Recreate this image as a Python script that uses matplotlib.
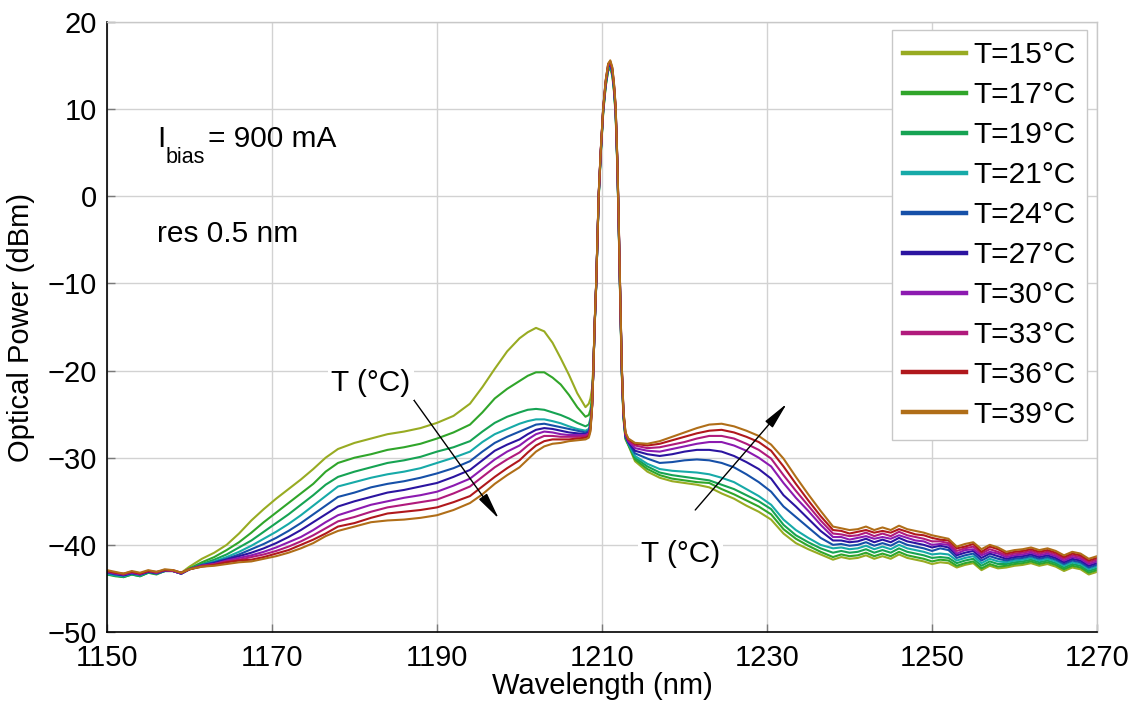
import matplotlib
matplotlib.use("Agg")
import matplotlib.pyplot as plt

plt.rcParams['font.family'] = ['Liberation Sans', 'DejaVu Sans']
plt.rcParams['mathtext.default'] = 'regular'

# ---------------- data ----------------
wavelength = [1150, 1151, 1152, 1153, 1154, 1155, 1156, 1157, 1158, 1159, 1160,
              1161.5, 1163, 1164.5, 1166, 1167.5, 1169, 1170.5, 1172, 1173.5, 1175, 1176.5, 1178,
              1180, 1182, 1184, 1186, 1188, 1190, 1192, 1194, 1195.5, 1197, 1198.5, 1200,
              1201, 1202, 1203, 1204, 1205, 1206, 1207, 1208,
              1208.4, 1208.6, 1208.8, 1208.95, 1209.1, 1209.3, 1209.45, 1209.6, 1209.85, 1210.15,
              1210.45, 1210.75, 1211.0, 1211.25, 1211.45, 1211.65, 1211.85, 1212.0, 1212.15, 1212.4,
              1212.6, 1212.85, 1213.2,
              1214, 1215.5, 1217, 1218.5, 1220, 1221.5, 1223, 1224.5, 1226, 1227.5, 1229, 1230.5,
              1232, 1233.5, 1235, 1236.5, 1238,
              1239, 1240, 1241, 1242, 1243, 1244, 1245, 1246, 1247, 1248, 1249, 1250,
              1251, 1252, 1253, 1254, 1255, 1256, 1257, 1258,
              1259, 1260, 1261, 1262, 1263, 1264, 1265, 1266, 1267, 1268, 1269, 1270]

t15 = [-43.3, -43.5, -43.6, -43.3, -43.5, -43.1, -43.3, -43.0, -43.0, -43.2, -42.5,
       -41.6, -40.9, -40.0, -38.7, -37.2, -35.9, -34.7, -33.6, -32.5, -31.3, -30.0, -29.0,
       -28.3, -27.8, -27.3, -27.0, -26.6, -26.0, -25.2, -23.8, -21.9, -19.8, -17.8, -16.3,
       -15.6, -15.1, -15.5, -16.8, -18.6, -20.5, -22.6, -24.2,
       -23.8, -23.2, -22.0, -19.5, -15.0, -10.0, -5.0, 0.0, 4.8, 9.6, 12.6, 14.4, 14.6, 13.8,
       12.0, 9.3, 3.5, -2.5, -9.5, -20.5, -25.5, -27.9, -28.6,
       -30.4, -31.6, -32.3, -32.7, -32.9, -33.1, -33.4, -34.1, -34.7, -35.5, -36.2, -37.1,
       -38.7, -39.8, -40.5, -41.1, -41.7,
       -41.4, -41.6, -41.5, -41.2, -41.6, -41.3, -41.6, -41.1, -41.5, -41.7, -41.9, -42.2,
       -42.0, -42.1, -42.6, -42.3, -42.1, -42.9, -42.4, -42.7,
       -42.6, -42.4, -42.3, -42.1, -42.4, -42.2, -42.5, -43.0, -42.6, -42.8, -43.4, -43.1]

t17 = [-43.4, -43.6, -43.7, -43.4, -43.6, -43.2, -43.4, -43.0, -43.0, -43.3, -42.7,
       -42.0, -41.4, -40.6, -39.7, -38.6, -37.4, -36.3, -35.2, -34.1, -33.0, -31.6, -30.6,
       -30.0, -29.6, -29.1, -28.8, -28.4, -27.8, -27.1, -26.2, -24.8, -23.2, -22.1, -21.2,
       -20.6, -20.2, -20.2, -20.8, -21.6, -22.8, -24.2, -25.3,
       -25.1, -24.5, -23.0, -19.8, -15.2, -10.2, -5.1, -0.2, 4.9, 9.8, 12.8, 14.6, 14.9, 14.0,
       12.2, 9.6, 3.8, -2.2, -9.2, -20.2, -25.3, -27.8, -28.5,
       -30.2, -31.3, -32.0, -32.4, -32.6, -32.8, -32.9, -33.6, -34.2, -34.9, -35.6, -36.5,
       -38.2, -39.3, -40.1, -40.8, -41.4,
       -41.1, -41.3, -41.2, -40.9, -41.3, -41.0, -41.3, -40.8, -41.2, -41.4, -41.6, -41.9,
       -41.7, -41.8, -42.4, -42.1, -41.9, -42.7, -42.2, -42.5,
       -42.4, -42.2, -42.1, -41.9, -42.2, -42.0, -42.3, -42.8, -42.4, -42.6, -43.2, -42.9]

t19 = [-43.4, -43.5, -43.7, -43.4, -43.6, -43.2, -43.3, -43.0, -43.0, -43.3, -42.8,
       -42.2, -41.7, -41.1, -40.3, -39.5, -38.5, -37.5, -36.5, -35.4, -34.3, -33.1, -32.2,
       -31.6, -31.1, -30.6, -30.3, -29.9, -29.3, -28.8, -28.1, -27.0, -26.0, -25.3, -24.8,
       -24.5, -24.4, -24.5, -24.8, -25.1, -25.5, -26.0, -26.4,
       -26.2, -25.5, -23.5, -20.0, -15.2, -10.1, -5.0, -0.1, 4.9, 9.8, 12.7, 14.5, 14.7, 14.1,
       12.3, 9.7, 3.9, -2.1, -9.1, -20.1, -25.2, -27.7, -28.5,
       -30.0, -31.0, -31.7, -32.0, -32.2, -32.4, -32.6, -33.1, -33.6, -34.3, -35.0, -35.9,
       -37.7, -38.9, -39.7, -40.4, -40.9,
       -40.7, -40.9, -40.8, -40.5, -40.9, -40.6, -40.9, -40.4, -40.8, -41.0, -41.2, -41.5,
       -41.4, -41.5, -42.1, -41.8, -41.6, -42.4, -41.9, -42.2,
       -42.2, -42.0, -41.9, -41.7, -42.0, -41.8, -42.1, -42.6, -42.2, -42.4, -43.0, -42.7]

t21 = [-43.3, -43.5, -43.6, -43.3, -43.5, -43.1, -43.3, -43.0, -43.0, -43.3, -42.8,
       -42.3, -41.9, -41.4, -40.8, -40.1, -39.3, -38.5, -37.6, -36.6, -35.5, -34.4, -33.3,
       -32.8, -32.3, -31.9, -31.6, -31.2, -30.6, -30.0, -29.3, -28.2, -27.3, -26.7, -26.1,
       -25.8, -25.6, -25.6, -25.8, -26.05, -26.4, -26.7, -26.9,
       -26.7, -26.0, -23.8, -20.1, -15.1, -10.1, -5.0, 0.0, 5.0, 9.9, 12.9, 14.7, 15.0, 14.2,
       12.4, 9.8, 4.0, -2.0, -9.0, -20.0, -25.1, -27.6, -28.4,
       -29.8, -30.7, -31.3, -31.5, -31.6, -31.7, -31.9, -32.3, -32.8, -33.6, -34.4, -35.4,
       -37.1, -38.3, -39.2, -40.0, -40.4,
       -40.3, -40.5, -40.4, -40.1, -40.5, -40.2, -40.5, -40.0, -40.4, -40.6, -40.8, -41.1,
       -41.0, -41.1, -41.8, -41.5, -41.3, -42.1, -41.6, -41.9,
       -42.0, -41.8, -41.7, -41.5, -41.8, -41.6, -41.9, -42.4, -42.0, -42.2, -42.8, -42.5]

t24 = [-43.2, -43.4, -43.5, -43.3, -43.4, -43.1, -43.3, -43.0, -43.0, -43.3, -42.8,
       -42.3, -42.0, -41.6, -41.1, -40.5, -39.9, -39.2, -38.4, -37.5, -36.5, -35.5, -34.5,
       -34.0, -33.4, -33.0, -32.7, -32.3, -31.8, -31.2, -30.4, -29.3, -28.3, -27.6, -27.0,
       -26.6, -26.2, -26.1, -26.3, -26.5, -26.7, -26.9, -27.1,
       -26.9, -26.2, -23.9, -20.1, -15.0, -10.0, -4.9, 0.1, 5.1, 10.0, 13.0, 14.8, 15.1, 14.3,
       12.5, 9.9, 4.0, -2.0, -9.0, -20.0, -25.0, -27.6, -28.3,
       -29.5, -30.1, -30.6, -30.5, -30.3, -30.2, -30.3, -30.6, -31.1, -31.9, -32.8, -33.9,
       -35.6, -36.8, -38.0, -39.2, -40.0,
       -39.9, -40.1, -40.0, -39.7, -40.1, -39.8, -40.1, -39.6, -40.0, -40.2, -40.4, -40.7,
       -40.4, -40.6, -41.5, -41.2, -41.0, -41.8, -41.3, -41.6,
       -41.8, -41.6, -41.5, -41.3, -41.6, -41.4, -41.7, -42.2, -41.8, -42.0, -42.6, -42.3]

t27 = [-43.1, -43.3, -43.5, -43.2, -43.4, -43.1, -43.2, -42.9, -43.0, -43.3, -42.8,
       -42.4, -42.1, -41.7, -41.3, -40.9, -40.4, -39.8, -39.1, -38.3, -37.4, -36.5, -35.6,
       -35.0, -34.5, -34.0, -33.7, -33.3, -32.9, -32.2, -31.4, -30.3, -29.2, -28.5, -27.9,
       -27.3, -26.8, -26.6, -26.7, -26.9, -27.1, -27.2, -27.3,
       -27.1, -26.4, -24.0, -20.1, -15.0, -10.0, -4.9, 0.1, 5.1, 10.0, 13.0, 14.9, 15.2, 14.4,
       12.6, 10.0, 4.1, -1.9, -8.9, -19.9, -25.0, -27.5, -28.2,
       -29.2, -29.6, -29.8, -29.6, -29.3, -29.1, -29.1, -29.3, -29.8, -30.5, -31.3, -32.4,
       -34.3, -35.6, -37.0, -38.4, -39.5,
       -39.5, -39.7, -39.6, -39.3, -39.7, -39.4, -39.7, -39.2, -39.6, -39.8, -40.0, -40.3,
       -40.1, -40.3, -41.2, -40.9, -40.7, -41.5, -41.0, -41.3,
       -41.6, -41.4, -41.3, -41.1, -41.4, -41.2, -41.5, -42.0, -41.6, -41.8, -42.4, -42.1]

t30 = [-43.1, -43.3, -43.4, -43.2, -43.4, -43.0, -43.2, -42.9, -43.0, -43.3, -42.8,
       -42.4, -42.2, -41.8, -41.5, -41.2, -40.8, -40.3, -39.7, -39.1, -38.3, -37.4, -36.6,
       -36.0, -35.4, -35.0, -34.6, -34.3, -33.9, -33.2, -32.4, -31.3, -30.2, -29.3, -28.6,
       -27.9, -27.3, -27.0, -27.1, -27.3, -27.4, -27.4, -27.4,
       -27.2, -26.5, -24.0, -20.0, -15.0, -10.0, -4.9, 0.2, 5.2, 10.1, 13.1, 15.0, 15.3, 14.5,
       12.7, 10.1, 4.2, -1.8, -8.8, -19.8, -24.9, -27.4, -28.1,
       -28.9, -29.2, -29.3, -29.0, -28.7, -28.4, -28.2, -28.2, -28.6, -29.2, -30.0, -31.0,
       -32.9, -34.6, -36.1, -37.7, -39.1,
       -39.1, -39.4, -39.2, -39.0, -39.3, -39.1, -39.3, -38.9, -39.2, -39.5, -39.6, -40.0,
       -39.9, -40.0, -41.0, -40.6, -40.5, -41.2, -40.8, -41.0,
       -41.4, -41.2, -41.1, -40.9, -41.2, -41.0, -41.3, -41.8, -41.4, -41.6, -42.2, -41.9]

t33 = [-43.0, -43.2, -43.4, -43.1, -43.3, -43.0, -43.2, -42.9, -43.0, -43.2, -42.8,
       -42.4, -42.2, -41.9, -41.7, -41.4, -41.1, -40.7, -40.2, -39.6, -38.9, -38.1, -37.3,
       -36.8, -36.2, -35.7, -35.4, -35.1, -34.8, -34.1, -33.3, -32.2, -31.1, -30.2, -29.4,
       -28.6, -27.9, -27.5, -27.5, -27.6, -27.6, -27.6, -27.5,
       -27.3, -26.6, -24.1, -20.0, -14.9, -9.9, -4.8, 0.2, 5.2, 10.1, 13.2, 15.1, 15.4, 14.6,
       12.8, 10.2, 4.3, -1.7, -8.7, -19.7, -24.8, -27.3, -28.0,
       -28.6, -28.9, -28.8, -28.5, -28.2, -27.8, -27.5, -27.5, -27.8, -28.4, -29.1, -30.1,
       -32.0, -33.8, -35.5, -37.2, -38.7,
       -38.8, -39.0, -38.9, -38.6, -39.0, -38.7, -39.0, -38.5, -38.9, -39.1, -39.3, -39.6,
       -39.6, -39.8, -40.7, -40.4, -40.2, -41.0, -40.5, -40.8,
       -41.2, -41.0, -40.9, -40.7, -41.0, -40.8, -41.1, -41.6, -41.2, -41.4, -42.0, -41.7]

t36 = [-43.0, -43.2, -43.3, -43.1, -43.3, -43.0, -43.1, -42.9, -42.9, -43.2, -42.8,
       -42.5, -42.3, -42.0, -41.8, -41.7, -41.4, -41.0, -40.6, -40.0, -39.4, -38.7, -37.9,
       -37.5, -36.9, -36.4, -36.2, -36.0, -35.7, -35.1, -34.4, -33.3, -32.2, -31.2, -30.3,
       -29.4, -28.6, -28.1, -27.9, -27.9, -27.9, -27.8, -27.7,
       -27.5, -26.8, -24.1, -20.0, -14.9, -9.9, -4.8, 0.3, 5.3, 10.2, 13.3, 15.2, 15.5, 14.7,
       12.9, 10.3, 4.4, -1.6, -8.6, -19.6, -24.7, -27.2, -27.9,
       -28.4, -28.6, -28.4, -28.0, -27.6, -27.2, -26.9, -26.8, -27.1, -27.6, -28.2, -29.2,
       -31.0, -33.0, -34.9, -36.7, -38.3,
       -38.4, -38.7, -38.5, -38.3, -38.6, -38.4, -38.6, -38.2, -38.5, -38.8, -38.9, -39.2,
       -39.4, -39.5, -40.4, -40.2, -39.9, -40.8, -40.2, -40.5,
       -41.0, -40.8, -40.7, -40.5, -40.8, -40.6, -40.9, -41.4, -41.0, -41.2, -41.8, -41.5]

t39 = [-42.9, -43.1, -43.3, -43.0, -43.2, -42.9, -43.1, -42.8, -42.9, -43.2, -42.8,
       -42.5, -42.4, -42.2, -42.0, -41.9, -41.6, -41.3, -40.9, -40.4, -39.8, -39.0, -38.4,
       -37.9, -37.4, -37.2, -37.1, -36.9, -36.6, -36.0, -35.2, -34.2, -33.0, -32.0, -31.1,
       -30.2, -29.3, -28.7, -28.4, -28.3, -28.1, -28.0, -27.9,
       -27.7, -27.0, -24.2, -20.0, -14.8, -9.8, -4.7, 0.3, 5.3, 10.2, 13.3, 15.2, 15.6, 14.8,
       13.0, 10.4, 4.5, -1.5, -8.5, -19.5, -24.6, -27.1, -27.8,
       -28.3, -28.4, -28.1, -27.6, -27.1, -26.6, -26.2, -26.1, -26.4, -26.9, -27.5, -28.5,
       -30.1, -32.2, -34.2, -36.1, -37.9,
       -38.1, -38.3, -38.2, -37.9, -38.3, -38.0, -38.3, -37.8, -38.2, -38.4, -38.6, -38.9,
       -39.1, -39.3, -40.2, -39.9, -39.7, -40.5, -40.0, -40.3,
       -40.8, -40.6, -40.5, -40.3, -40.6, -40.4, -40.7, -41.2, -40.8, -41.0, -41.6, -41.3]

series = [t15, t17, t19, t21, t24, t27, t30, t33, t36, t39]
labels = ['T=15°C', 'T=17°C', 'T=19°C', 'T=21°C', 'T=24°C',
          'T=27°C', 'T=30°C', 'T=33°C', 'T=36°C', 'T=39°C']
colors = ['#98ab22', '#30a52a', '#16a353', '#17aaa8', '#1650a8',
          '#2b14a0', '#8c1ab0', '#b01a7c', '#b0181c', '#b06e18']

xticks = [1150, 1170, 1190, 1210, 1230, 1250, 1270]
yticks = [-50, -40, -30, -20, -10, 0, 10, 20]

FS = 21.5

# ---------------- figure ----------------
fig = plt.figure(figsize=(11.39, 7.07), dpi=100)
ax = fig.add_axes([107 / 1139, 1 - 632 / 707, 990 / 1139, 610 / 707])

for y, lab, c in zip(series, labels, colors):
    n = min(len(y), len(wavelength))
    ax.plot(wavelength[:n], y[:n], color=c, lw=1.5, label=lab)

ax.set_xlim(1150, 1270)
ax.set_ylim(-50, 20)
ax.set_xticks(xticks)
ax.set_yticks(yticks)
ax.grid(True, color='#d2d2d2', lw=1.0, ls='-')
ax.set_axisbelow(True)
ax.tick_params(direction='in', length=6, width=1, color='#7a7a7a', labelsize=21)
ax.tick_params(axis='x', pad=9)
ax.tick_params(axis='y', pad=7)
for s in ['left', 'bottom']:
    ax.spines[s].set_color('#000000')
    ax.spines[s].set_linewidth(1.2)
for s in ['top', 'right']:
    ax.spines[s].set_color('#c8c8c8')
    ax.spines[s].set_linewidth(1.0)

ax.set_xlabel('Wavelength (nm)', fontsize=21, labelpad=0)
ax.set_ylabel('Optical Power (dBm)', fontsize=21, labelpad=9)

# I_bias annotation built from pieces
x0, y0 = 1156.1, 5.6
ax.text(x0, y0, 'I', fontsize=FS, va='baseline', ha='left')
ax.annotate('bias', xy=(x0, y0), xytext=(5.8, -11.0), textcoords='offset points',
            fontsize=15.5, va='baseline', ha='left')
ax.annotate('= 900 mA', xy=(x0, y0), xytext=(36.5, 0), textcoords='offset points',
            fontsize=FS, va='baseline', ha='left')
ax.text(x0, -5.2, 'res 0.5 nm', fontsize=FS, va='baseline', ha='left')

bbox = dict(boxstyle='square,pad=0.1', fc='white', ec='none')
arrow_style = dict(arrowstyle='-|>,head_length=1.1,head_width=0.2',
                   color='black', lw=1.0, mutation_scale=15,
                   shrinkA=0, shrinkB=0)
ax.annotate('', xy=(1197.5, -37.0), xytext=(1186.3, -22.2), arrowprops=arrow_style)
ax.text(1182.0, -21.4, 'T (°C)', fontsize=FS, ha='center', va='center', bbox=bbox)

ax.annotate('', xy=(1232.4, -23.8), xytext=(1221.3, -36.0), arrowprops=arrow_style)
ax.text(1219.5, -41.0, 'T (°C)', fontsize=FS, ha='center', va='center', bbox=bbox)

leg = ax.legend(loc='upper right', bbox_to_anchor=(1 - 10 / 990, 1 - 8 / 610),
                fontsize=FS, frameon=True, fancybox=False, framealpha=1,
                edgecolor='#c8c8c8', handlelength=2.1, handletextpad=0.25,
                labelspacing=0.40, borderpad=0.38, borderaxespad=0)
leg.get_frame().set_linewidth(1.0)
for h in leg.get_lines():
    h.set_linewidth(3.2)

fig.savefig('out.png', dpi=100)
